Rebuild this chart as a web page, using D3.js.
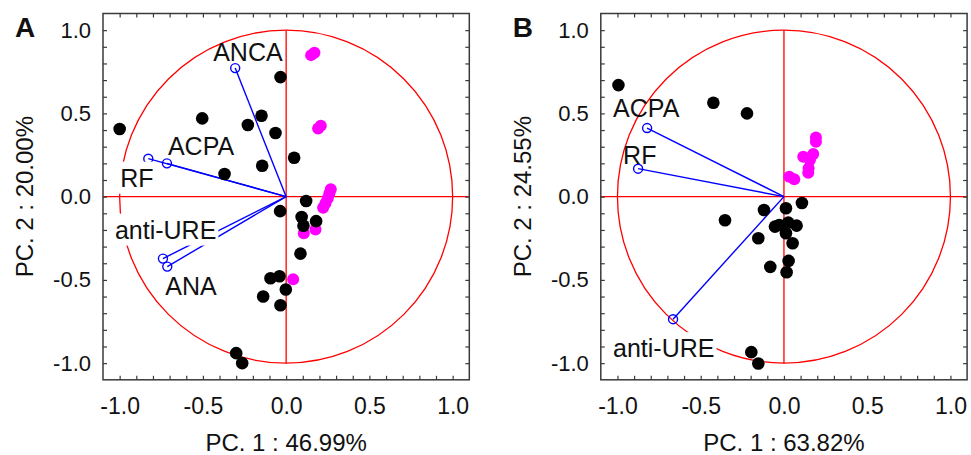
<!DOCTYPE html>
<html><head><meta charset="utf-8">
<script src="https://cdn.jsdelivr.net/npm/d3@7"></script>
<style>
body{margin:0;background:#fff}
svg{display:block}
text{font-family:"Liberation Sans",Arial,Helvetica,sans-serif;fill:#111}
</style>
</head><body>
<svg id="chart" width="971" height="455"></svg>
<script>
// ---------- DATA ----------
const majorTicks = [-1.0, -0.5, 0.0, 0.5, 1.0];
const tickLabels = ["-1.0", "-0.5", "0.0", "0.5", "1.0"];
const minorTicks = d3.range(-10, 11).map(i => i / 10);

const panelTitles = ["A", "B"];
const xTitles = ["PC. 1 : 46.99%", "PC. 1 : 63.82%"];
const yTitles = ["PC. 2 : 20.00%", "PC. 2 : 24.55%"];

// Panel A scores
const scoresA_black = [
  [-1.0, 0.406], [-0.504, 0.47], [-0.23, 0.43], [-0.148, 0.486], [-0.064, 0.382],
  [-0.034, 0.718], [0.048, 0.234], [-0.144, 0.186], [-0.37, 0.136], [0.12, -0.026],
  [-0.036, -0.087], [0.093, -0.122], [0.18, -0.147], [0.104, -0.175], [0.086, -0.342],
  [-0.094, -0.49], [-0.04, -0.478], [-0.002, -0.558], [-0.138, -0.6], [-0.034, -0.652],
  [-0.3, -0.94], [-0.264, -1.0]
];
const scoresA_magenta = [
  [0.15, 0.85], [0.17, 0.864], [0.192, 0.41], [0.208, 0.426],
  [0.268, 0.045], [0.26, 0.02], [0.25, -0.01], [0.236, -0.04], [0.222, -0.066],
  [0.106, -0.22], [0.176, -0.198], [0.042, -0.496]
];
// Panel A loadings
const loadA_names = ["ANCA", "ACPA", "RF", "anti-URE", "ANA"];
const loadA_pc1 = [-0.306, -0.716, -0.828, -0.74, -0.714];
const loadA_pc2 = [0.772, 0.2, 0.228, -0.372, -0.42];

// Panel B scores
const scoresB_black = [
  [-0.994, 0.67], [-0.424, 0.564], [-0.222, 0.5], [0.108, -0.038], [-0.12, -0.08],
  [0.012, -0.07], [-0.354, -0.142], [-0.054, -0.18], [-0.028, -0.17], [0.026, -0.156],
  [0.076, -0.174], [0.012, -0.22], [-0.154, -0.25], [0.052, -0.28], [0.028, -0.386],
  [-0.082, -0.422], [0.016, -0.454], [-0.196, -0.934], [-0.154, -1.002]
];
const scoresB_magenta = [
  [0.192, 0.356], [0.192, 0.33], [0.176, 0.256], [0.156, 0.22], [0.148, 0.17],
  [0.146, 0.144], [0.116, 0.24], [0.032, 0.12], [0.062, 0.104]
];
// Panel B loadings
const loadB_names = ["ACPA", "RF", "anti-URE"];
const loadB_pc1 = [-0.822, -0.876, -0.666];
const loadB_pc2 = [0.412, 0.168, -0.736];

// ---------- LAYOUT / STYLE ----------
const labelLayout = {
  A: { "ANCA": [-22, -7, false], "ACPA": [1, -8, false], "RF": [-28, 28, true],
       "anti-URE": [-48, -20, true], "ANA": [-2, 28, false] },
  B: { "ACPA": [-34, -11, false], "RF": [-15, -5, false], "anti-URE": [-60, 38, true] }
};

const svg = d3.select("#chart");
const FRAME = "#3a3a3a";

function drawPanel(cfg) {
  const x = d3.scaleLinear().domain([-1.1, 1.1]).range([cfg.left, cfg.left + 366.3]);
  const y = d3.scaleLinear().domain([-1.1, 1.1]).range([379.8, 13.5]);
  const g = svg.append("g");

  // circle
  g.append("circle")
    .attr("cx", x(0)).attr("cy", y(0))
    .attr("r", x(1) - x(0))
    .attr("fill", "none").attr("stroke", "#ff0000").attr("stroke-width", 1.3);
  // cross lines
  g.append("line").attr("x1", x(-1.1)).attr("x2", x(1.1)).attr("y1", y(0)).attr("y2", y(0))
    .attr("stroke", "#ff0000").attr("stroke-width", 1.3);
  g.append("line").attr("x1", x(0)).attr("x2", x(0)).attr("y1", y(1)).attr("y2", y(-1))
    .attr("stroke", "#ff0000").attr("stroke-width", 1.3);

  // loading vectors
  const loads = cfg.names.map((n, i) => ({ name: n, a: cfg.pc1[i], b: cfg.pc2[i] }));
  g.selectAll(".vec").data(loads).enter().append("line")
    .attr("x1", x(0)).attr("y1", y(0))
    .attr("x2", d => x(d.a)).attr("y2", d => y(d.b))
    .attr("stroke", "#0000ff").attr("stroke-width", 1.4);
  g.selectAll(".vm").data(loads).enter().append("circle")
    .attr("cx", d => x(d.a)).attr("cy", d => y(d.b)).attr("r", 4.5)
    .attr("fill", "none").attr("stroke", "#0000ff").attr("stroke-width", 1.4);

  // labels
  loads.forEach(d => {
    const off = cfg.layout[d.name];
    const tx = x(d.a) + off[0], ty = y(d.b) + off[1];
    const t = g.append("text").attr("x", tx).attr("y", ty)
      .attr("font-size", 25).text(d.name);
    if (off[2]) {
      const bb = t.node().getBBox();
      g.insert("rect", () => t.node())
        .attr("x", bb.x - 2).attr("y", bb.y - 2)
        .attr("width", bb.width + 4).attr("height", bb.height + 4)
        .attr("fill", "#fff");
    }
  });

  // scores
  g.selectAll(".mg").data(cfg.magenta).enter().append("circle")
    .attr("cx", d => x(d[0])).attr("cy", d => y(d[1])).attr("r", 6)
    .attr("fill", "#ff00ff");
  g.selectAll(".bk").data(cfg.black).enter().append("circle")
    .attr("cx", d => x(d[0])).attr("cy", d => y(d[1])).attr("r", 6.3)
    .attr("fill", "#000");

  // frame
  g.append("rect").attr("x", x(-1.1)).attr("y", y(1.1))
    .attr("width", x(1.1) - x(-1.1)).attr("height", y(-1.1) - y(1.1))
    .attr("fill", "none").attr("stroke", FRAME).attr("stroke-width", 1.5);

  // minor/major inward ticks on all four sides
  const tick = (ax, tr) => {
    const a = g.append("g").attr("transform", tr)
      .call(ax.tickValues(minorTicks).tickSize(-4).tickFormat(""));
    a.select(".domain").remove();
    a.selectAll("line").attr("stroke", FRAME).attr("stroke-width", 1.2);
  };
  tick(d3.axisBottom(x), `translate(0,${y(-1.1)})`);
  tick(d3.axisTop(x), `translate(0,${y(1.1)})`);
  tick(d3.axisLeft(y), `translate(${x(-1.1)},0)`);
  tick(d3.axisRight(y), `translate(${x(1.1)},0)`);

  // tick labels
  const xl = g.append("g").attr("transform", `translate(0,${y(-1.1)})`)
    .call(d3.axisBottom(x).tickValues(majorTicks).tickSize(0).tickPadding(18)
      .tickFormat((d, i) => tickLabels[i]));
  xl.select(".domain").remove();
  xl.selectAll("text").attr("font-size", 23).attr("font-family", null).attr("fill", "#111");
  const yl = g.append("g").attr("transform", `translate(${x(-1.1)},0)`)
    .call(d3.axisLeft(y).tickValues(majorTicks).tickSize(0).tickPadding(12)
      .tickFormat((d, i) => tickLabels[i]));
  yl.select(".domain").remove();
  yl.selectAll("text").attr("font-size", 22).attr("font-family", null).attr("fill", "#111");

  // axis titles
  g.append("text").attr("x", x(0)).attr("y", 451).attr("text-anchor", "middle")
    .attr("font-size", 24).text(cfg.xTitle);
  g.append("text").attr("transform", `translate(${cfg.left - 70},${y(0)}) rotate(-90)`)
    .attr("text-anchor", "middle").attr("font-size", 24).text(cfg.yTitle);
  // panel letter
  g.append("text").attr("x", cfg.left - 88).attr("y", 37)
    .attr("font-size", 28).attr("font-weight", "bold").text(cfg.letter);
}

drawPanel({ left: 103, letter: panelTitles[0], xTitle: xTitles[0], yTitle: yTitles[0],
  black: scoresA_black, magenta: scoresA_magenta,
  names: loadA_names, pc1: loadA_pc1, pc2: loadA_pc2, layout: labelLayout.A });
drawPanel({ left: 600.8, letter: panelTitles[1], xTitle: xTitles[1], yTitle: yTitles[1],
  black: scoresB_black, magenta: scoresB_magenta,
  names: loadB_names, pc1: loadB_pc1, pc2: loadB_pc2, layout: labelLayout.B });
</script>
</body></html>
